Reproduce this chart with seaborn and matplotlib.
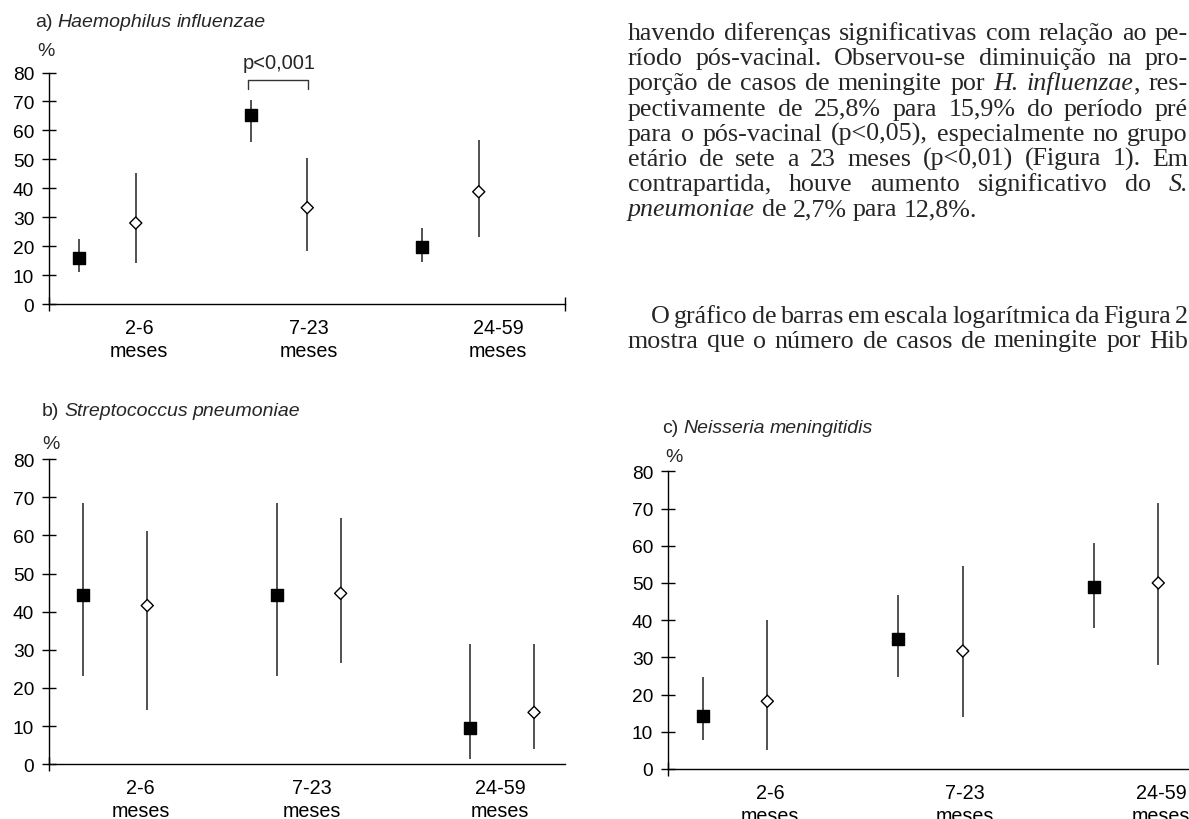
import matplotlib
matplotlib.use('Agg')
import matplotlib.pyplot as plt
import seaborn as sns
import pandas as pd
import numpy as np

# % de casos por faixa etaria, periodo pre e pos-vacinal, com IC
faixas = ['2-6\nmeses', '7-23\nmeses', '24-59\nmeses']
periodos = ['pré-vacinal', 'pós-vacinal']

hib_pre = [15.9, 65.3, 19.8]
hib_pre_inf = [11.0, 56.0, 14.7]
hib_pre_sup = [22.5, 70.5, 26.2]
hib_pos = [28.0, 33.3, 38.8]
hib_pos_inf = [14.2, 18.4, 23.1]
hib_pos_sup = [45.2, 50.6, 56.7]

spn_pre = [44.4, 44.4, 9.5]
spn_pre_inf = [23.2, 23.2, 1.4]
spn_pre_sup = [68.5, 68.5, 31.4]
spn_pos = [41.6, 44.8, 13.6]
spn_pos_inf = [14.1, 26.5, 4.0]
spn_pos_sup = [61.1, 64.5, 31.4]

nm_pre = [14.3, 34.9, 48.9]
nm_pre_inf = [7.8, 24.7, 37.8]
nm_pre_sup = [24.6, 46.8, 60.7]
nm_pos = [18.2, 31.7, 50.0]
nm_pos_inf = [5.1, 13.9, 28.0]
nm_pos_sup = [40.1, 54.6, 71.5]

texto1 = [
    'havendo diferenças significativas com relação ao pe-',
    'ríodo pós-vacinal. Observou-se diminuição na pro-',
    'porção de casos de meningite por *H. influenzae*, res-',
    'pectivamente de 25,8% para 15,9% do período pré',
    'para o pós-vacinal (p<0,05), especialmente no grupo',
    'etário de sete a 23 meses (p<0,01) (Figura 1). Em',
    'contrapartida, houve aumento significativo do *S.*',
    '*pneumoniae* de 2,7% para 12,8%.',
]
texto2 = [
    'O gráfico de barras em escala logarítmica da Figura 2',
    'mostra que o número de casos de meningite por Hib',
]


def tabela(pre, pre_inf, pre_sup, pos, pos_inf, pos_sup):
    df = pd.DataFrame({
        'grupo': [0, 1, 2] * 2,
        'periodo': [periodos[0]] * 3 + [periodos[1]] * 3,
        'pct': pre + pos,
        'inf': pre_inf + pos_inf,
        'sup': pre_sup + pos_sup,
    })
    df['x'] = df['grupo'] + np.where(df['periodo'] == periodos[0], -0.165, 0.165)
    return df


sns.set_style('ticks')
plt.rcParams['font.family'] = ['Liberation Sans', 'DejaVu Sans']
plt.rcParams['axes.edgecolor'] = 'black'
plt.rcParams['xtick.color'] = 'black'
plt.rcParams['ytick.color'] = 'black'

W, H = 1189, 820
fig = plt.figure(figsize=(W / 100, H / 100), dpi=100)
renderer = fig.canvas.get_renderer()


def palavras(linha):
    res = []
    ital = False
    for bruto in linha.split(' '):
        segs = []
        for k, parte in enumerate(bruto.split('*')):
            if k > 0:
                ital = not ital
            if parte:
                segs.append((parte, ital))
        res.append(segs)
    return res


def escreve(x, y, linha, fs, family, x_fim=None):
    objs = []
    for palavra in palavras(linha):
        ws = []
        for txt, it in palavra:
            ws.append(fig.text(0, 1 - y / H, txt, fontsize=fs, family=family,
                               style='italic' if it else 'normal', va='baseline'))
        objs.append(ws)
    larg = [[t.get_window_extent(renderer).width for t in ws] for ws in objs]
    total = sum(sum(l) for l in larg)
    if x_fim is not None and len(objs) > 1:
        gap = (x_fim - x - total) / (len(objs) - 1)
    else:
        gap = fs * 100 / 72 * 0.25
    cx = x
    for ws, ls in zip(objs, larg):
        for t, l in zip(ws, ls):
            t.set_x(cx / W)
            cx += l
        cx += gap
    return objs


def largura_palavras(linha, fs, family):
    objs = escreve(0, 0, linha, fs, family)
    w = sum(t.get_window_extent(renderer).width for ws in objs for t in ws)
    for ws in objs:
        for t in ws:
            t.remove()
    return w, len(objs)


# body text size: largest that keeps at least a narrow space on every full line
serif = 'Liberation Serif'
linhas = [(628, l) for l in texto1[:-1]] + [(651, texto2[0]), (628, texto2[1])]
tams = []
for x0, l in linhas:
    w, n = largura_palavras(l, 16, serif)
    tams.append((1188 - x0) / (w / 16 + (n - 1) * 0.16 * 100 / 72))
fs_corpo = min(tams)

for k, linha in enumerate(texto1):
    fim = None if k == len(texto1) - 1 else 1188
    escreve(628, 40 + 25.2 * k, linha, fs_corpo, serif, fim)
escreve(651, 322.7, texto2[0], fs_corpo, serif, 1188)
escreve(628, 347.5, texto2[1], fs_corpo, serif, 1188)

paineis = [
    dict(titulo='a) *Haemophilus influenzae*', df=tabela(hib_pre, hib_pre_inf, hib_pre_sup, hib_pos, hib_pos_inf, hib_pos_sup),
         rect=[49 / W, 0.628, 516 / W, 0.2823], xlim=(-0.341, 2.668), lab=[0.184, 1.175, 2.277],
         pontas=[-0.341, 2.668], tit=(35, 27), pc=(37, 52)),
    dict(titulo='b) *Streptococcus pneumoniae*', df=tabela(spn_pre, spn_pre_inf, spn_pre_sup, spn_pos, spn_pos_inf, spn_pos_sup),
         rect=[49 / W, 0.0667, 516 / W, 0.3723], xlim=(-0.343, 2.325), lab=[0.13, 1.017, 1.99],
         pontas=[-0.343], tit=(42, 416), pc=(42, 445)),
    dict(titulo='c) *Neisseria meningitidis*', df=tabela(nm_pre, nm_pre_inf, nm_pre_sup, nm_pos, nm_pos_inf, nm_pos_sup),
         rect=[668 / W, 0.061, 589 / W, 0.363], xlim=(-0.343, 2.67), lab=[0.18, 1.176, 2.18],
         pontas=[-0.343], tit=(662, 433), pc=(665, 457)),
]

for p in paineis:
    ax = fig.add_axes(p['rect'])
    df = p['df']
    ax.vlines(df['x'], df['inf'], df['sup'], color='#222222', lw=1.1, zorder=1)
    sns.scatterplot(data=df, x='x', y='pct', hue='periodo', style='periodo', size='periodo',
                    palette={periodos[0]: 'black', periodos[1]: 'white'},
                    markers={periodos[0]: 's', periodos[1]: 'D'},
                    sizes={periodos[0]: 76, periodos[1]: 38},
                    edgecolor='black', linewidth=1, legend=False, ax=ax, zorder=3)
    ax.set_xlim(*p['xlim'])
    ax.set_ylim(0, 80)
    ax.set_yticks(range(0, 81, 10))
    ax.set_xticks(p['lab'], faixas)
    ax.set_xticks(p['pontas'], minor=True)
    ax.tick_params(axis='y', direction='inout', length=9.4, width=1, pad=6, labelsize=13.8)
    ax.tick_params(axis='x', which='major', length=0, pad=10, labelsize=14.2)
    ax.tick_params(axis='x', which='minor', direction='inout', length=9.4, width=1)
    for lbl in ax.get_xticklabels():
        lbl.set_linespacing(1.25)
    ax.set_xlabel('')
    ax.set_ylabel('')
    sns.despine(ax=ax)
    for s in ['left', 'bottom']:
        ax.spines[s].set_linewidth(1)
    escreve(p['tit'][0], p['tit'][1], p['titulo'], 14, 'Liberation Sans')
    fig.text(p['pc'][0] / W, 1 - p['pc'][1] / H, '%', fontsize=14, va='center')
    if p['titulo'].startswith('a)'):
        ax.plot([0.82, 0.82, 1.17, 1.17], [74.2, 77.3, 77.3, 74.2], color='#333333', lw=1, clip_on=False)
        ax.text(1.0, 83.6, 'p<0,001', ha='center', va='center', fontsize=14.5, clip_on=False)

fig.savefig('out.png', dpi=100)
